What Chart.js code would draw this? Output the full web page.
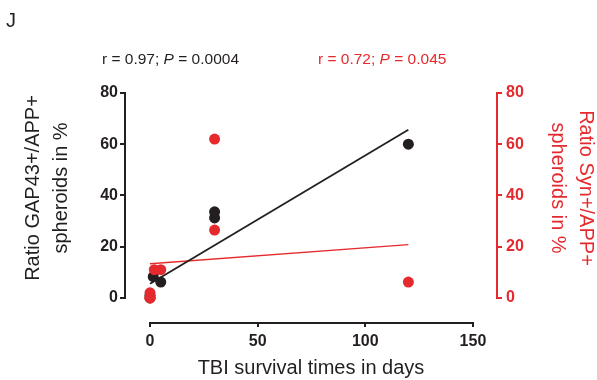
<!DOCTYPE html>
<html><head><meta charset="utf-8">
<script src="https://cdn.jsdelivr.net/npm/chart.js@4.4.1/dist/chart.umd.min.js"></script>
<style>
html,body{margin:0;padding:0;background:#fff;}
#wrap{position:relative;width:597px;height:380px;font-family:"Liberation Sans",Arial,sans-serif;}
canvas{position:absolute;left:0;top:0;}
.lbl{position:absolute;white-space:nowrap;line-height:1;}
</style></head><body>
<div id="wrap">
<canvas id="c" width="597" height="380"></canvas>
<div class="lbl" style="left:6px;top:10px;font-size:20px;color:#231f20">J</div>
<div class="lbl" style="left:102px;top:51px;font-size:15.5px;color:#231f20">r = 0.97; <i>P</i> = 0.0004</div>
<div class="lbl" style="left:318px;top:51px;font-size:15.5px;color:#e52a2e">r = 0.72; <i>P</i> = 0.045</div>
</div>
<script>
// ---- data ----
const gapX = [0, 0, 1.5, 5, 30, 30, 120];
const gapY = [0, 1, 8.3, 6.2, 33.6, 31.2, 60];
const synX = [0, 0, 0, 2, 5, 30, 30, 120];
const synY = [0, 0, 2, 11, 11, 62, 26.5, 6.2];
const gapFitX = [0, 120];
const gapFitY = [5.5, 65.6];
const synFitX = [0, 120];
const synFitY = [13.3, 20.8];
const xTicks = [0, 50, 100, 150];
const yTicks = [0, 20, 40, 60, 80];

const BLACK = '#231f20';
const RED = '#e52a2e';
const FONT = '"Liberation Sans", Arial, sans-serif';

const pts = (xs, ys) => xs.map((x, i) => ({x: x, y: ys[i]}));

const axisLines = {
  id: 'axisLines',
  beforeDatasetsDraw(chart) {
    const {ctx, scales: {x, y, y2}} = chart;
    ctx.save();
    ctx.lineWidth = 2;
    ctx.strokeStyle = BLACK;
    ctx.beginPath();
    ctx.moveTo(x.getPixelForValue(xTicks[0]) - 1, x.top + 1);
    ctx.lineTo(x.getPixelForValue(xTicks[xTicks.length - 1]) + 1, x.top + 1);
    ctx.moveTo(y.right - 1, y.getPixelForValue(yTicks[0]) + 1);
    ctx.lineTo(y.right - 1, y.getPixelForValue(yTicks[yTicks.length - 1]) - 1);
    ctx.stroke();
    ctx.strokeStyle = RED;
    ctx.beginPath();
    ctx.moveTo(y2.left + 1, y2.getPixelForValue(yTicks[0]) + 1);
    ctx.lineTo(y2.left + 1, y2.getPixelForValue(yTicks[yTicks.length - 1]) - 1);
    ctx.stroke();
    ctx.restore();
  }
};

const tickFont = {family: FONT, size: 16, weight: 'bold'};
const titleFont = {family: FONT, size: 20, weight: 'normal', lineHeight: 1.4};

new Chart(document.getElementById('c'), {
  type: 'scatter',
  data: {
    datasets: [
      {type: 'line', data: pts(gapFitX, gapFitY), borderColor: BLACK, borderWidth: 1.8, pointRadius: 0, yAxisID: 'y', fill: false},
      {type: 'line', data: pts(synFitX, synFitY), borderColor: RED, borderWidth: 1.5, pointRadius: 0, yAxisID: 'y2', fill: false},
      {data: pts(synX, synY), backgroundColor: RED, borderColor: RED, borderWidth: 0, pointRadius: 5.5, yAxisID: 'y2'},
      {data: pts(gapX, gapY), backgroundColor: BLACK, borderColor: BLACK, borderWidth: 0, pointRadius: 5.5, yAxisID: 'y'}
    ]
  },
  options: {
    responsive: false,
    animation: false,
    layout: {padding: {top: 54, left: 0, right: 0, bottom: 0}},
    plugins: {legend: {display: false}, tooltip: {enabled: false}},
    scales: {
      x: {
        type: 'linear', position: 'bottom', min: -11.15, max: 160.7,
        afterBuildTicks: s => { s.ticks = xTicks.map(v => ({value: v})); },
        afterFit: s => { s.height = 58; },
        border: {display: false},
        grid: {drawOnChartArea: false, drawTicks: true, tickLength: 5, color: BLACK, lineWidth: 2},
        ticks: {font: tickFont, color: BLACK, padding: 5, maxRotation: 0, autoSkip: false},
        title: {display: true, text: 'TBI survival times in days', color: BLACK,
                font: {family: FONT, size: 20, lineHeight: 1.2}, padding: {top: 0, bottom: 0}}
      },
      y: {
        type: 'linear', position: 'left', min: -9.4, max: 95.2,
        afterBuildTicks: s => { s.ticks = yTicks.map(v => ({value: v})); },
        afterFit: s => { s.width = 126; },
        border: {display: false},
        grid: {drawOnChartArea: false, drawTicks: true, tickLength: 6, color: BLACK, lineWidth: 2},
        ticks: {font: tickFont, color: BLACK, padding: 2, autoSkip: false},
        title: {display: true, text: ['Ratio GAP43+/APP+', 'spheroids in %'], color: BLACK,
                font: titleFont, padding: {top: 19, bottom: 0}}
      },
      y2: {
        type: 'linear', position: 'right', min: -9.4, max: 95.2,
        afterBuildTicks: s => { s.ticks = yTicks.map(v => ({value: v})); },
        afterFit: s => { s.width = 101; },
        border: {display: false},
        grid: {drawOnChartArea: false, drawTicks: true, tickLength: 6, color: RED, lineWidth: 2},
        ticks: {font: tickFont, color: RED, padding: 4, autoSkip: false},
        title: {display: true, text: ['Ratio Syn+/APP+', 'spheroids in %'], color: RED,
                font: titleFont, padding: {top: -3, bottom: 0}}
      }
    }
  },
  plugins: [axisLines]
});
</script>
</body></html>
